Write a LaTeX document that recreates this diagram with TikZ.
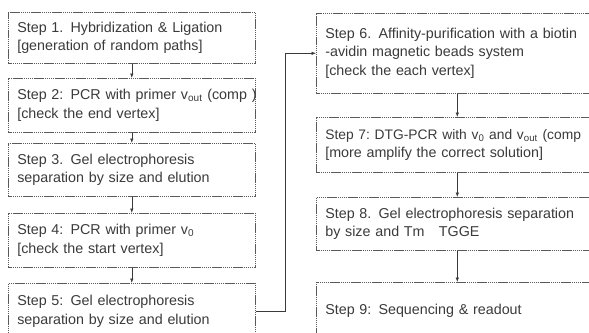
\documentclass[tikz,border=0pt]{standalone}
\usepackage{fontspec}
\setmainfont{Liberation Sans}
\usetikzlibrary{arrows.meta}
\definecolor{ink}{HTML}{3A3A3A}
\definecolor{edge}{HTML}{5A5A5A}
\begin{document}
\begin{tikzpicture}[x=1pt,y=-1pt,
  stepbox/.style={draw=edge, line width=0.6pt, dash pattern=on 1.5pt off 0.6pt,
    text=ink, font=\fontsize{14.3}{18.5}\selectfont, align=left,
    anchor=north west, inner xsep=9pt, inner ysep=0pt},
  lbox/.style={stepbox, minimum width=247pt, text width=229pt},
  rbox/.style={stepbox, minimum width=282pt, text width=264pt},
  conn/.style={draw=ink, line width=0.6pt, -{Latex[length=4.5pt,width=3.5pt]}}]
\useasboundingbox (0,0) rectangle (589,332);
\clip (0,0) rectangle (589,332);
\node[lbox, minimum height=51pt] (s1) at (8,12)
  {Step 1. Hybridization \& Ligation\\\mbox{[generation of random paths]}};
\node[lbox, minimum height=54pt] (s2) at (8,78)
  {\mbox{Step 2: PCR with primer v\textsubscript{out} (comp )}\\{}[check the end vertex]};
\node[lbox, minimum height=53pt] (s3) at (8,143)
  {Step 3. Gel electrophoresis\\separation by size and elution};
\node[lbox, minimum height=54pt] (s4) at (8,213)
  {Step 4: PCR with primer v\textsubscript{0}\\{}[check the start vertex]};
\node[lbox, minimum height=56pt] (s5) at (8,283)
  {Step 5: Gel electrophoresis\\separation by size and elution};
\node[rbox, minimum height=80pt] (s6) at (316,13)
  {\mbox{Step 6. Affinity-purification with a biotin}\\-avidin magnetic beads system\\{}[check the each vertex]};
\node[rbox, minimum height=55pt] (s7) at (316,117)
  {\mbox{\frenchspacing\fontsize{13.8}{18.5}\selectfont Step 7: DTG-PCR with v\textsubscript{0} and v\textsubscript{out} (comp}\\{}[more amplify the correct solution]};
\node[rbox, minimum height=53pt] (s8) at (316,197)
  {\mbox{Step 8. Gel electrophoresis separation}\\by size and Tm \ \ TGGE};
\node[rbox, minimum height=56pt] (s9) at (316,282)
  {Step 9: Sequencing \& readout};
\draw[conn] (s1.south) -- (s2.north);
\draw[conn] (s2.south) -- (s3.north);
\draw[conn] (s3.south) -- (s4.north);
\draw[conn] (s4.south) -- (s5.north);
\draw[conn] (s5.east) -- ++(30,0) |- (s6.west);
\draw[conn] (s6.south) -- (s7.north);
\draw[conn] (s7.south) -- (s8.north);
\draw[conn] (s8.south) -- (s9.north);
\end{tikzpicture}
\end{document}
